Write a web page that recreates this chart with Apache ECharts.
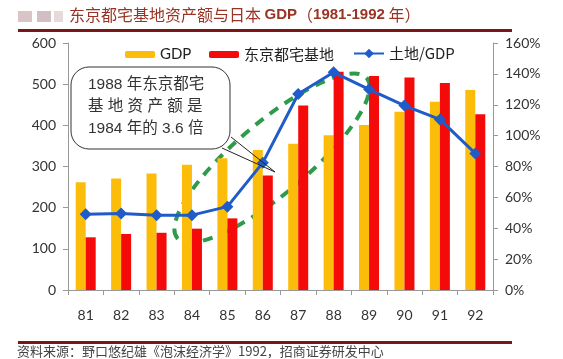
<!DOCTYPE html>
<html><head><meta charset="utf-8">
<script src="https://cdn.jsdelivr.net/npm/echarts@6/dist/echarts.min.js"></script>
<style>html,body{margin:0;padding:0;background:#fff}#c{width:563px;height:359px}</style>
</head><body><div id="c"></div>
<script>
const years = ['81','82','83','84','85','86','87','88','89','90','91','92'];
const gdp = [262, 271, 283, 304, 320, 340, 355, 376, 401, 433, 457, 486];
const land = [128, 136, 139, 149, 174, 278, 448, 530, 520, 516, 503, 427];
const ratio = [49, 49.5, 48.5, 48.5, 54, 82.5, 127, 141, 130, 119.5, 110.5, 88.5];
const leftTicks = {min: 0, max: 600, interval: 100};
const rightTicks = {min: 0, max: 160, interval: 20};

const chart = echarts.init(document.getElementById('c'), null, {renderer: 'canvas'});
const axisFont = {color: '#333', fontSize: 14, fontFamily: 'Lato, "Open Sans", sans-serif'};
const cjk = '"Noto Sans CJK SC", sans-serif';
chart.setOption({
  animation: false,
  backgroundColor: '#fff',
  grid: {left: 68, right: 70, top: 43, bottom: 69},
  legend: [
    {data: ['GDP'], left: 125, top: 47, padding: 0, itemWidth: 30, itemHeight: 7,
     textStyle: {fontSize: 15, color: '#222', fontFamily: 'Lato, sans-serif'}},
    {data: ['东京都宅基地'], left: 209, top: 47, padding: 0, itemWidth: 30, itemHeight: 7,
     textStyle: {fontSize: 15, color: '#222', fontFamily: cjk}},
    {data: ['土地/GDP'], left: 353, top: 46, padding: 0, itemWidth: 30, itemHeight: 12,
     textStyle: {fontSize: 15, color: '#222', fontFamily: cjk}}
  ],
  xAxis: {
    type: 'category', data: years,
    axisLine: {show: true, lineStyle: {color: '#999', width: 1}},
    axisTick: {show: true, length: 5, lineStyle: {color: '#999'}},
    axisLabel: Object.assign({margin: 18}, axisFont)
  },
  yAxis: [
    Object.assign({type: 'value', position: 'left',
      axisLine: {show: true, lineStyle: {color: '#999'}},
      axisTick: {show: true, length: 5, lineStyle: {color: '#999'}},
      splitLine: {show: false},
      axisLabel: Object.assign({margin: 12}, axisFont)}, leftTicks),
    Object.assign({type: 'value', position: 'right',
      axisLine: {show: true, lineStyle: {color: '#999'}},
      axisTick: {show: true, length: 5, lineStyle: {color: '#999'}},
      splitLine: {show: false},
      axisLabel: Object.assign({margin: 12, formatter: '{value}%'}, axisFont)}, rightTicks)
  ],
  series: [
    {name: 'GDP', type: 'bar', data: gdp, barWidth: 10, barGap: '0%',
     itemStyle: {color: '#fbbd0a'}},
    {name: '东京都宅基地', type: 'bar', data: land, barWidth: 10, barGap: '0%',
     itemStyle: {color: '#f50a0a'}},
    {name: '土地/GDP', type: 'line', yAxisIndex: 1, data: ratio,
     symbol: 'diamond', symbolSize: 12,
     lineStyle: {color: '#1f5cc8', width: 3}, itemStyle: {color: '#1f5cc8'}, z: 5}
  ],
  graphic: [
    {type: 'rect', shape: {x: 18, y: 11, width: 14, height: 11}, style: {fill: '#d9c4c6'}},
    {type: 'rect', shape: {x: 37, y: 11, width: 14, height: 11}, style: {fill: '#d3bfc1'}},
    {type: 'rect', shape: {x: 54, y: 11, width: 9, height: 11}, style: {fill: '#e6d9da'}},
    {type: 'text', left: 69, top: 7, style: {
      text: '东京都宅基地资产额与日本 {b|GDP}（{b|1981-1992} 年）',
      fill: '#9a3324', font: '16px "Noto Sans CJK SC", sans-serif',
      rich: {b: {fontFamily: '"Liberation Sans", Arial, sans-serif', fontWeight: 'bold', fontSize: 15, fill: '#9a3324'}}
    }},
    {type: 'rect', shape: {x: 18, y: 29, width: 494, height: 3}, style: {fill: '#7a1616'}},
    {type: 'rect', shape: {x: 18, y: 341, width: 494, height: 3}, style: {fill: '#7a1616'}},
    {type: 'text', left: 17, top: 345, style: {
      text: '资料来源：野口悠纪雄《泡沫经济学》1992，招商证券研发中心',
      fill: '#444', font: '13px "Noto Sans CJK SC", sans-serif'}},
    {type: 'group', x: 272, y: 158, rotation: 0.70, z: 100, children: [
      {type: 'ellipse', shape: {cx: 0, cy: 0, rx: 124, ry: 36},
       style: {fill: 'none', stroke: '#2e9b4a', lineWidth: 4, lineDash: [10, 8]}}
    ]},
    {type: 'polyline', z: 101, shape: {points: [[222, 148], [275, 172], [231, 137]]},
     style: {stroke: '#222', lineWidth: 1, fill: 'none'}},
    {type: 'rect', z: 102, shape: {x: 71, y: 67, width: 159, height: 82, r: 18},
     style: {fill: '#fff', stroke: '#333', lineWidth: 1}},
    {type: 'text', z: 103, left: 88, top: 77, style: {
      text: '1988 年东京都宅', fill: '#333', font: '15.5px "Liberation Sans", "Noto Sans CJK SC", sans-serif'}},
    {type: 'text', z: 103, left: 88, top: 99, style: {
      text: '基 地 资 产 额 是', fill: '#333', font: '15.5px "Liberation Sans", "Noto Sans CJK SC", sans-serif'}},
    {type: 'text', z: 103, left: 88, top: 121, style: {
      text: '1984 年的 3.6 倍', fill: '#333', font: '15.5px "Liberation Sans", "Noto Sans CJK SC", sans-serif'}}
  ]
});
</script>
</body></html>
